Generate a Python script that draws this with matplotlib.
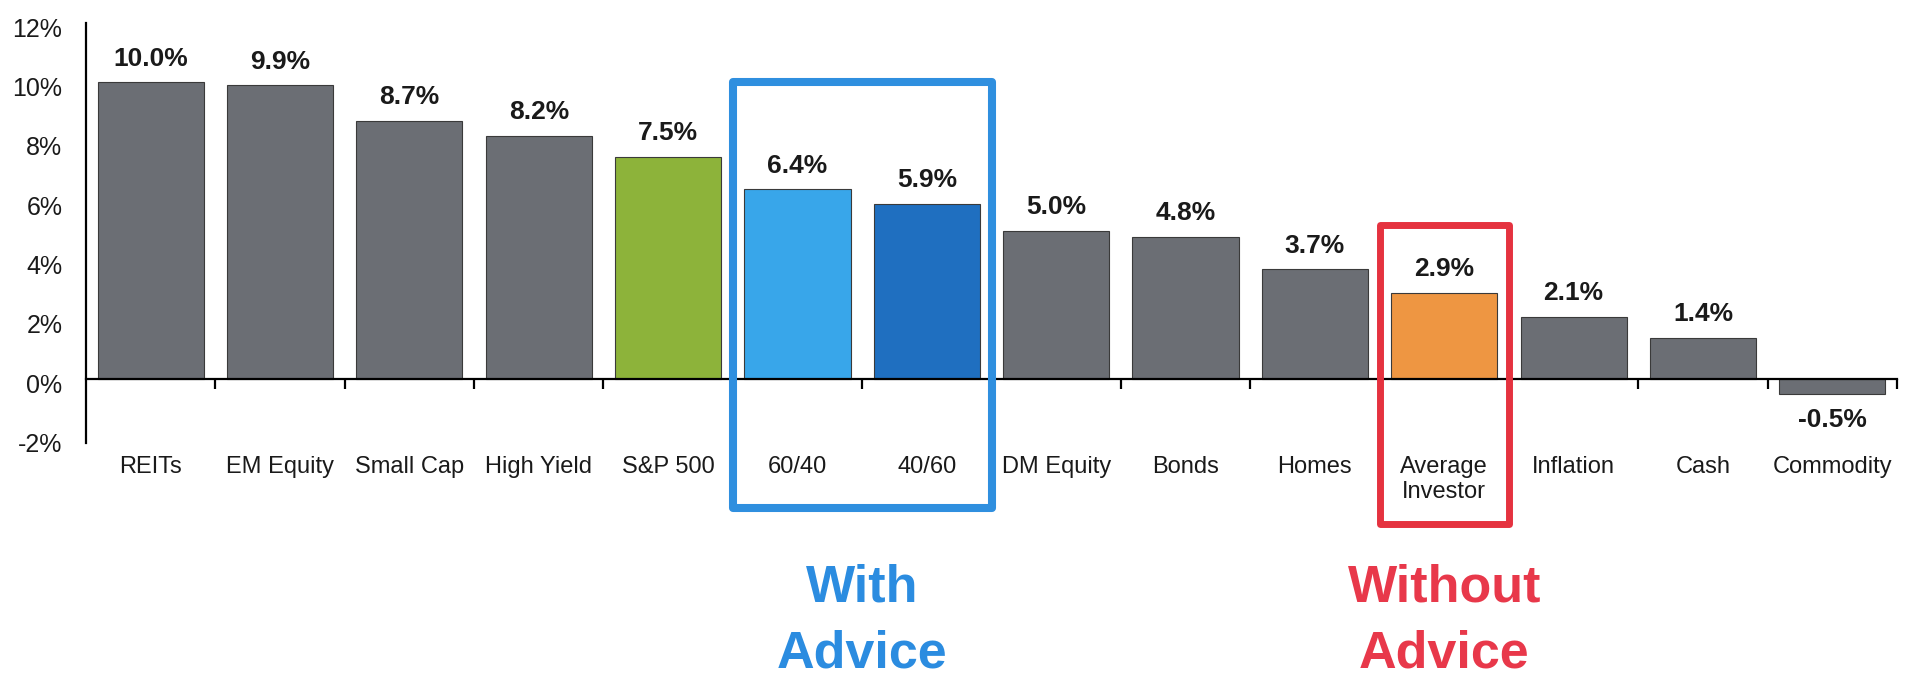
import matplotlib
matplotlib.use("Agg")
import matplotlib.pyplot as plt
from matplotlib.patches import Rectangle
import matplotlib.transforms as mtransforms

plt.rcParams['font.family'] = ['Liberation Sans', 'DejaVu Sans']

categories = ["REITs", "EM Equity", "Small Cap", "High Yield", "S&P 500", "60/40", "40/60",
              "DM Equity", "Bonds", "Homes", "Average\nInvestor", "Inflation", "Cash", "Commodity"]
values = [10.0, 9.9, 8.7, 8.2, 7.5, 6.4, 5.9, 5.0, 4.8, 3.7, 2.9, 2.1, 1.4, -0.5]
value_labels = ["10.0%", "9.9%", "8.7%", "8.2%", "7.5%", "6.4%", "5.9%", "5.0%", "4.8%",
                "3.7%", "2.9%", "2.1%", "1.4%", "-0.5%"]
y_ticks = [-2, 0, 2, 4, 6, 8, 10, 12]
y_tick_labels = ["-2%", "0%", "2%", "4%", "6%", "8%", "10%", "12%"]
with_advice = ["60/40", "40/60"]
without_advice = ["Average\nInvestor"]

GRAY = "#6b6e74"
colors = {"S&P 500": "#8db33a", "60/40": "#38a6ea", "40/60": "#1f6fc0",
          "Average\nInvestor": "#ee9642"}
bar_colors = [colors.get(c, GRAY) for c in categories]

W, H, DPI = 1913, 679, 100
fig = plt.figure(figsize=(W / DPI, H / DPI), dpi=DPI)
left, right, top, bottom = 86 / W, 1897 / W, 1 - 23 / H, 1 - 443 / H
ax = fig.add_axes([left, bottom, right - left, top - bottom])

x = list(range(len(categories)))
ax.bar(x, values, width=0.82, color=bar_colors, edgecolor="#3a3a3a", linewidth=0.8, zorder=2)

ax.set_xlim(-0.5, len(categories) - 0.5)
ax.set_ylim(-2.15, 12)

for s in ["top", "right"]:
    ax.spines[s].set_visible(False)
ax.spines["bottom"].set_position(("data", 0))
ax.spines["bottom"].set_linewidth(1.6)
ax.spines["bottom"].set_zorder(3)
ax.spines["left"].set_linewidth(1.6)

# y ticks
ax.set_yticks(y_ticks)
ax.set_yticklabels(y_tick_labels, fontsize=18, color="#1a1a1a")
ax.tick_params(axis="y", length=0, pad=17)
shift = mtransforms.ScaledTranslation(0, -3 / 72, fig.dpi_scale_trans)
for lab in ax.get_yticklabels():
    lab.set_transform(lab.get_transform() + shift)

# x ticks: boundaries as major ticks, categories as minor labels
ax.set_xticks([i + 0.5 for i in x])
ax.set_xticklabels([])
ax.tick_params(axis="x", which="major", direction="out", length=7, width=1.6)
ax.set_xticks(x, minor=True)
ax.set_xticklabels(categories, minor=True, fontsize=17, color="#1a1a1a", va="top")
ax.tick_params(axis="x", which="minor", length=0, pad=55)

# value labels
for xi, v, lab in zip(x, values, value_labels):
    if v >= 0:
        ax.annotate(lab, (xi, v), xytext=(0, 12), textcoords="offset points",
                    ha="center", va="baseline", fontsize=19, fontweight="bold", color="#1a1a1a")
    else:
        ax.annotate(lab, (xi, v), xytext=(0, -10), textcoords="offset points",
                    ha="center", va="top", fontsize=19, fontweight="bold", color="#1a1a1a")

# highlight boxes
def box(cats, ytop, ybot, color, lw):
    idx = [categories.index(c) for c in cats]
    x0, x1 = min(idx) - 0.5, max(idx) + 0.5
    r = Rectangle((x0, ybot), x1 - x0, ytop - ybot, fill=False, edgecolor=color,
                  linewidth=lw, clip_on=False, zorder=4, joinstyle="round")
    ax.add_patch(r)
    return (x0 + x1) / 2

cx_with = box(with_advice, 10.0, -4.35, "#2f8fdf", 5.8)
cx_without = box(without_advice, 5.2, -4.87, "#e5323f", 5.0)

trans = mtransforms.blended_transform_factory(ax.transData, fig.transFigure)
for cx, lines, col in [(cx_with, ["With", "Advice"], "#2b8ce0"),
                       (cx_without, ["Without", "Advice"], "#e8384a")]:
    for line, yb in zip(lines, [1 - 602 / H, 1 - 667 / H]):
        fig.text(cx, yb, line, transform=trans, ha="center", va="baseline",
                 fontsize=37.5, fontweight="bold", color=col)

fig.savefig("out.png", dpi=DPI)
